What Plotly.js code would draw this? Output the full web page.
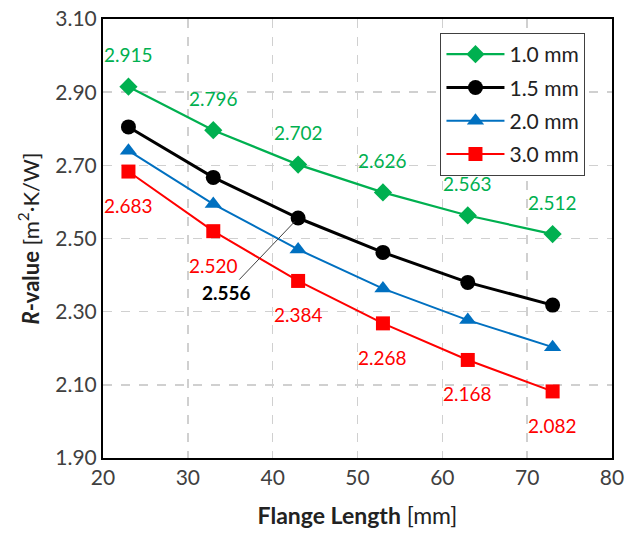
<!DOCTYPE html>
<html><head><meta charset="utf-8">
<script src="https://cdn.plot.ly/plotly-3.0.1.min.js"></script>
<style>body{margin:0;background:#fff}#c{width:627px;height:547px}</style>
</head><body><div id="c"></div>
<script>
const flangeLength = [23, 33, 43, 53, 63, 73];
const seriesNames = ['1.0 mm', '1.5 mm', '2.0 mm', '3.0 mm'];
const r10 = [2.915, 2.796, 2.702, 2.626, 2.563, 2.512];
const r15 = [2.805, 2.667, 2.556, 2.462, 2.380, 2.318];
const r20 = [2.740, 2.594, 2.470, 2.363, 2.277, 2.203];
const r30 = [2.683, 2.520, 2.384, 2.268, 2.168, 2.082];
const yTicks = [1.90, 2.10, 2.30, 2.50, 2.70, 2.90, 3.10];
const xTicks = [20, 30, 40, 50, 60, 70, 80];

const FONT = 'Lato, "Open Sans", sans-serif';
const cGreen = '#00B050', cBlack = '#000000', cBlue = '#0070C0', cRed = '#FF0000';

function tr(y, name, color, symbol, size, lw) {
  return {x: flangeLength, y: y, name: name, type: 'scatter', mode: 'lines+markers',
    line: {color: color, width: lw}, marker: {color: color, symbol: symbol, size: size},
    legendgroup: name};
}
const data = [
  tr(r10, seriesNames[0], cGreen, 'diamond', 14, 2.2),
  tr(r15, seriesNames[1], cBlack, 'circle', 15, 3),
  tr(r20, seriesNames[2], cBlue, 'triangle-up', 15, 2),
  tr(r30, seriesNames[3], cRed, 'square', 14, 2)
];

const annotations = [];
flangeLength.forEach((x, i) => {
  annotations.push({x: x, y: r10[i], xref: 'x', yref: 'y', text: r10[i].toFixed(3),
    showarrow: false, yshift: 32, font: {family: FONT, size: 19, color: cGreen}});
  annotations.push({x: x, y: r30[i], xref: 'x', yref: 'y', text: r30[i].toFixed(3),
    showarrow: false, yshift: -34, font: {family: FONT, size: 19, color: cRed}});
});
annotations.push({x: flangeLength[2], y: r15[2], xref: 'x', yref: 'y',
  ax: 34.6, ay: 2.352, axref: 'x', ayref: 'y', text: '<b>' + r15[2].toFixed(3) + '</b>',
  showarrow: true, arrowhead: 0, arrowwidth: 1, arrowcolor: '#404040', standoff: 5,
  font: {family: FONT, size: 19, color: '#000'}});

const layout = {
  width: 627, height: 547,
  margin: {l: 103, r: 15, t: 19, b: 89},
  paper_bgcolor: '#fff', plot_bgcolor: '#fff',
  font: {family: FONT, color: '#404040'},
  showlegend: true,
  legend: {x: 0.663, y: 0.968, xanchor: 'left', yanchor: 'top',
    bgcolor: '#fff', bordercolor: '#404040', borderwidth: 1,
    font: {family: FONT, size: 21, color: '#222'}, tracegroupgap: 3, itemwidth: 58},
  xaxis: {range: [20, 80], tickvals: xTicks, ticktext: xTicks.map(String),
    showgrid: true, gridcolor: '#d0d0d0', griddash: 'dash', gridwidth: 1.5,
    showline: true, linecolor: '#000', linewidth: 2, mirror: true, zeroline: false,
    ticks: '', tickfont: {family: FONT, size: 21, color: '#404040'},
    title: {text: '<b>Flange Length</b> [mm]', font: {family: FONT, size: 23, color: '#222'}, standoff: 20}},
  yaxis: {range: [1.90, 3.10], tickvals: yTicks, ticktext: yTicks.map(v => v.toFixed(2)),
    showgrid: true, gridcolor: '#d0d0d0', griddash: 'dash', gridwidth: 1.5,
    showline: true, linecolor: '#000', linewidth: 2, mirror: true, zeroline: false,
    ticks: '', tickfont: {family: FONT, size: 21, color: '#404040'},
    title: {text: '<b><i>R</i>-value</b> [m<sup>2</sup>·K/W]', font: {family: FONT, size: 22, color: '#222'}, standoff: 10}},
  annotations: annotations
};
Plotly.newPlot('c', data, layout, {staticPlot: true});
</script></body></html>
